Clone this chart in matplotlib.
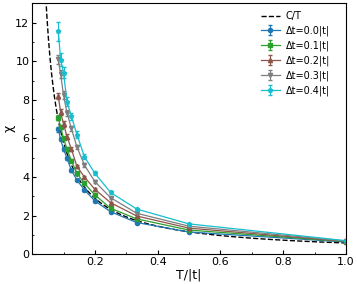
import numpy as np
import matplotlib
matplotlib.use("Agg")
import matplotlib.pyplot as plt
from matplotlib.ticker import MultipleLocator

# temperatures T/|t| = 1/n
n = np.array([1, 2, 3, 4, 5, 6, 7, 8, 9, 10, 11, 12])
T = 1.0 / n

# curie constant for the reference curve
C = 0.58

labels = ['Δt=0.0|t|', 'Δt=0.1|t|', 'Δt=0.2|t|', 'Δt=0.3|t|', 'Δt=0.4|t|']
colors = ['#1f77b4', '#2ca02c', '#8c564b', '#7f7f7f', '#17becf']
markers = ['o', 's', '^', 'v', 'p']

chi_00 = [0.63, 1.15, 1.64, 2.20, 2.76, 3.33, 3.84, 4.35, 4.97, 5.45, 5.95, 6.47]
chi_01 = [0.65, 1.25, 1.83, 2.38, 3.07, 3.67, 4.19, 4.85, 5.45, 6.00, 6.60, 7.08]
chi_02 = [0.66, 1.35, 1.98, 2.67, 3.36, 4.00, 4.55, 5.45, 6.10, 6.75, 7.35, 8.20]
chi_03 = [0.68, 1.45, 2.12, 2.93, 3.76, 4.62, 5.55, 6.52, 7.33, 8.24, 9.33, 10.10]
chi_04 = [0.70, 1.57, 2.34, 3.20, 4.19, 5.05, 6.20, 7.15, 7.90, 9.40, 10.09, 11.55]

err_00 = [0.02, 0.02, 0.03, 0.03, 0.04, 0.05, 0.06, 0.07, 0.08, 0.09, 0.10, 0.12]
err_01 = [0.02, 0.02, 0.03, 0.04, 0.05, 0.06, 0.07, 0.08, 0.09, 0.10, 0.12, 0.14]
err_02 = [0.02, 0.03, 0.04, 0.05, 0.06, 0.07, 0.09, 0.10, 0.12, 0.14, 0.16, 0.18]
err_03 = [0.02, 0.03, 0.04, 0.06, 0.08, 0.10, 0.12, 0.14, 0.17, 0.20, 0.22, 0.25]
err_04 = [0.02, 0.04, 0.06, 0.08, 0.10, 0.13, 0.16, 0.19, 0.23, 0.28, 0.35, 0.50]

series = [chi_00, chi_01, chi_02, chi_03, chi_04]
errors = [err_00, err_01, err_02, err_03, err_04]

fig = plt.figure(figsize=(3.57, 2.84), dpi=100)
ax = fig.add_axes([0.09, 0.105, 0.879, 0.883])

Tc = np.linspace(0.04, 1.0, 400)
ax.plot(Tc, C / Tc, 'k--', lw=1.0, label='C/T')

for y, e, c, m, lab in zip(series, errors, colors, markers, labels):
    ax.errorbar(T, y, yerr=e, color=c, marker=m, ms=3, lw=0.9,
                capsize=1.5, elinewidth=0.8, label=lab)

ax.set_xlim(0, 1.0)
ax.set_ylim(0, 13)
ax.set_xticks([0.2, 0.4, 0.6, 0.8, 1.0])
ax.set_yticks([0, 2, 4, 6, 8, 10, 12])
ax.xaxis.set_minor_locator(MultipleLocator(0.1))
ax.yaxis.set_minor_locator(MultipleLocator(1))
ax.tick_params(which='both', direction='in', labelsize=8, pad=2)
ax.tick_params(which='major', length=3)
ax.tick_params(which='minor', length=1.5)

ax.set_xlabel('T/|t|', fontsize=9, labelpad=1)
ax.set_ylabel('χ', fontsize=9, labelpad=0)

ax.legend(loc='upper right', bbox_to_anchor=(0.975, 1.0), frameon=False,
          fontsize=7, handlelength=2.0, handletextpad=0.6,
          labelspacing=0.45, borderaxespad=0.4)

fig.savefig('out.png', dpi=100)
